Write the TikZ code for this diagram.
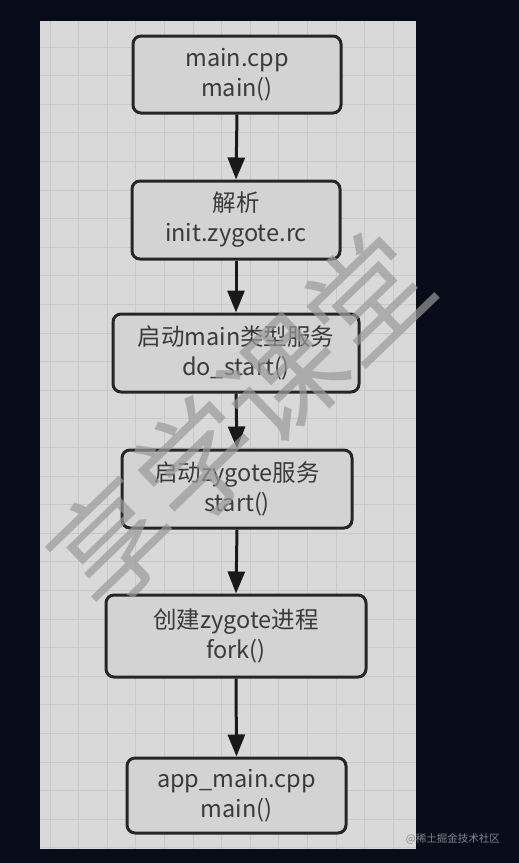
\documentclass[tikz,border=0pt]{standalone}
\usepackage{fontspec}
\setmainfont{Noto Sans CJK SC}
\usepackage{pdfrender}
\usetikzlibrary{arrows.meta}
\definecolor{bgdark}{HTML}{070C18}
\definecolor{panel}{HTML}{D9D9D9}
\definecolor{gridc}{HTML}{C9C9C9}
\definecolor{boxfill}{HTML}{D3D3D3}
\definecolor{txt}{HTML}{3A3A3A}
\definecolor{credit}{HTML}{80858F}
\definecolor{wmark}{HTML}{9A9A9A}
\tikzset{
  flowbox/.style={draw=black!85, line width=3pt, rounded corners=8pt, fill=boxfill,
    text=txt, align=center, font=\fontsize{23.5}{30}\selectfont, inner sep=0pt},
  flowarrow/.style={draw=black!90, line width=3pt, -{Triangle[length=22pt,width=17pt]}},
}
\begin{document}
\begin{tikzpicture}[x=1pt,y=-1pt]
\useasboundingbox (0,0) rectangle (519,863);
\fill[bgdark] (0,0) rectangle (519,863);
\fill[panel] (40,21) rectangle (416,849);
\begin{scope}
\clip (40,21) rectangle (416,849);
\foreach \i in {-1,...,13} {\draw[gridc, line width=0.9pt] ({50+28.6*\i},21) -- ({50+28.6*\i},849);}
\foreach \j in {-1,...,29} {\draw[gridc, line width=0.9pt] (40,{47+28.6*\j}) -- (416,{47+28.6*\j});}
\end{scope}
\node[flowbox, minimum width=208pt, minimum height=77pt] (b1) at (237,74.5) {main.cpp\\main()};
\node[flowbox, minimum width=208pt, minimum height=78pt] (b2) at (236,220) {解析\\init.zygote.rc};
\node[flowbox, minimum width=246pt, minimum height=78pt] (b3) at (236,353) {启动main类型服务\\do\_start()};
\node[flowbox, minimum width=230pt, minimum height=78pt] (b4) at (237,489) {启动zygote服务\\start()};
\node[flowbox, minimum width=260pt, minimum height=82pt] (b5) at (236,636) {创建zygote进程\\fork()};
\node[flowbox, minimum width=219pt, minimum height=75pt] (b6) at (236.5,795.5) {app\_main.cpp\\main()};
\draw[flowarrow] (b1.south) -- (b2.north);
\draw[flowarrow] (b2.south) -- (b3.north);
\draw[flowarrow] (b3.south) -- (b4.north);
\draw[flowarrow] (b4.south) -- (b5.north);
\draw[flowarrow] (b5.south) -- (b6.north);
\node[rotate=44, text=wmark, opacity=0.7, font=\fontsize{118}{118}\selectfont, inner sep=0pt] (wm) at (240,420)
  {\textpdfrender{TextRenderingMode=1,LineWidth=1.2,StrokeColor=wmark}{享学课堂}};
\node[text=credit, font=\fontsize{10.5}{12}\selectfont, anchor=east, inner sep=0pt] (cr) at (500,839) {@稀土掘金技术社区};
\end{tikzpicture}
\end{document}
